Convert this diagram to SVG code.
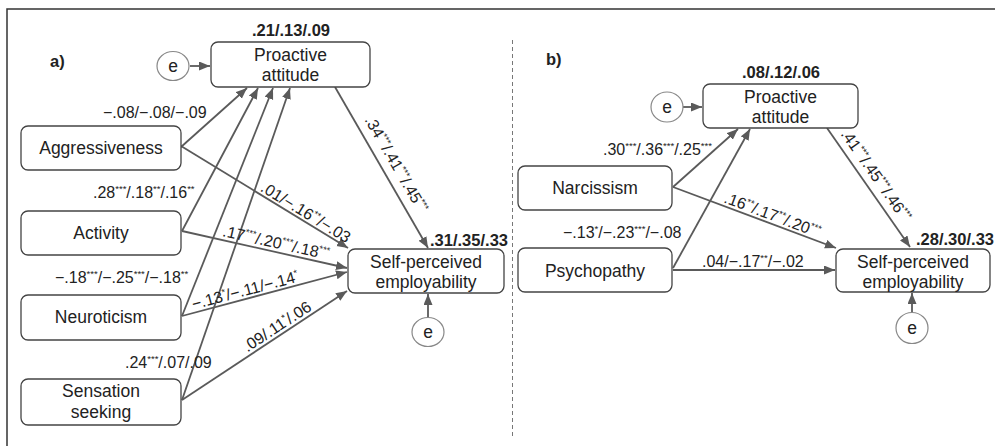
<svg xmlns="http://www.w3.org/2000/svg" width="995" height="446" viewBox="0 0 995 446">
<defs>
<marker id="ah" markerUnits="userSpaceOnUse" markerWidth="12" markerHeight="10" refX="11" refY="4.5" orient="auto">
<path d="M0,0 L11,4.5 L0,9 z" fill="#5a5a5a"/>
</marker>
<style>
.box{fill:#fff;stroke:#444;stroke-width:1.3}
.err{fill:#fff;stroke:#888;stroke-width:1.2}
.nt{font-family:"Liberation Sans",Arial,sans-serif;font-size:17.5px;fill:#222;text-anchor:middle}
.bt{font-family:"Liberation Sans",Arial,sans-serif;font-size:16.5px;font-weight:bold;fill:#222}
.lb{font-family:"Liberation Sans",Arial,sans-serif;font-size:16px;fill:#222}
.s{font-size:9.5px}
.c line,.c path{stroke:#5a5a5a;stroke-width:1.8;fill:none;marker-end:url(#ah)}
</style>
</defs>
<rect width="995" height="446" fill="#fff"/>
<path d="M7,446 V9 H995" fill="none" stroke="#333" stroke-width="1.5"/>
<line x1="512.5" y1="40" x2="512.5" y2="436" stroke="#777" stroke-width="1" stroke-dasharray="4,3"/>

<text class="bt" x="50" y="67">a)</text>
<text class="bt" x="546" y="65">b)</text>

<g class="c" id="connectors">
<line x1="190" y1="66" x2="210" y2="66"/>
<line x1="181" y1="147" x2="247" y2="88"/>
<line x1="182" y1="231" x2="258" y2="88"/>
<line x1="182" y1="316" x2="273" y2="88"/>
<line x1="182" y1="400" x2="290" y2="88"/>
<line x1="335" y1="87" x2="428" y2="248"/>
<line x1="181" y1="146" x2="348" y2="248"/>
<line x1="182" y1="231" x2="347" y2="268"/>
<line x1="182" y1="316" x2="347" y2="272"/>
<line x1="182" y1="400" x2="347" y2="291"/>
<line x1="428" y1="318" x2="428" y2="294"/>

<line x1="683" y1="107" x2="702" y2="107"/>
<line x1="673" y1="187" x2="738" y2="129"/>
<line x1="673" y1="268" x2="750" y2="129"/>
<line x1="827" y1="128" x2="910" y2="247"/>
<line x1="673" y1="187" x2="836" y2="248"/>
<line x1="673" y1="270" x2="835" y2="270"/>
<line x1="912" y1="312" x2="912" y2="293"/>
</g>

<g id="e1"><ellipse class="err" cx="173" cy="66" rx="16" ry="14.5"/><text class="nt" x="173" y="72">e</text></g>
<g id="pa_a"><rect class="box" x="211" y="42" width="159" height="45" rx="7"/><text class="nt" x="290.5" y="61">Proactive</text><text class="nt" x="290.5" y="81">attitude</text></g>
<text class="bt" x="291" y="36" text-anchor="middle">.21/.13/.09</text>
<g id="agg"><rect class="box" x="21" y="126" width="160" height="44" rx="7"/><text class="nt" x="101" y="154">Aggressiveness</text></g>
<g id="act"><rect class="box" x="21" y="211" width="160" height="44" rx="7"/><text class="nt" x="101" y="239">Activity</text></g>
<g id="neu"><rect class="box" x="21" y="295" width="160" height="45" rx="7"/><text class="nt" x="101" y="323">Neuroticism</text></g>
<g id="sen"><rect class="box" x="21" y="379" width="160" height="46" rx="7"/><text class="nt" x="101" y="397">Sensation</text><text class="nt" x="101" y="418">seeking</text></g>
<g id="spe_a"><rect class="box" x="348" y="249" width="156" height="44" rx="7"/><text class="nt" x="426" y="268">Self-perceived</text><text class="nt" x="426" y="288">employability</text></g>
<text class="bt" x="430" y="246">.31/.35/.33</text>
<g id="e2"><ellipse class="err" cx="428" cy="332" rx="16" ry="14.5"/><text class="nt" x="428" y="338">e</text></g>

<g id="e3"><ellipse class="err" cx="667" cy="107" rx="16" ry="15"/><text class="nt" x="667" y="113">e</text></g>
<g id="pa_b"><rect class="box" x="703" y="84" width="155" height="44" rx="7"/><text class="nt" x="780.5" y="103">Proactive</text><text class="nt" x="780.5" y="123">attitude</text></g>
<text class="bt" x="781" y="78" text-anchor="middle">.08/.12/.06</text>
<g id="nar"><rect class="box" x="518" y="166" width="154" height="44" rx="7"/><text class="nt" x="595" y="194">Narcissism</text></g>
<g id="psy"><rect class="box" x="518" y="248" width="154" height="44" rx="7"/><text class="nt" x="595" y="277">Psychopathy</text></g>
<g id="spe_b"><rect class="box" x="836" y="249" width="154" height="43" rx="7"/><text class="nt" x="913" y="268">Self-perceived</text><text class="nt" x="913" y="288">employability</text></g>
<text class="bt" x="916" y="245">.28/.30/.33</text>
<g id="e4"><ellipse class="err" cx="912" cy="328" rx="16" ry="15.5"/><text class="nt" x="912" y="334">e</text></g>

<g id="labels" class="lb">
<text x="103" y="118">−.08/−.08/−.09</text>
<text x="93" y="198">.28<tspan class="s" dy="-6">***</tspan><tspan dy="6">/.18</tspan><tspan class="s" dy="-6">**</tspan><tspan dy="6">/.16</tspan><tspan class="s" dy="-6">**</tspan></text>
<text x="55" y="283">−.18<tspan class="s" dy="-6">***</tspan><tspan dy="6">/−.25</tspan><tspan class="s" dy="-6">***</tspan><tspan dy="6">/−.18</tspan><tspan class="s" dy="-6">**</tspan></text>
<text x="125" y="368">.24<tspan class="s" dy="-6">***</tspan><tspan dy="6">/.07/.09</tspan></text>
<text text-anchor="middle" transform="translate(391.5,167) rotate(60)">.34<tspan class="s" dy="-6">***</tspan><tspan dy="6">/.41</tspan><tspan class="s" dy="-6">***</tspan><tspan dy="6">/.45</tspan><tspan class="s" dy="-6">***</tspan></text>
<text text-anchor="middle" transform="translate(303,217) rotate(31.4)">.01/−.16<tspan class="s" dy="-6">**</tspan><tspan dy="6">/−.03</tspan></text>
<text text-anchor="middle" transform="translate(275,248) rotate(12.6)">.17<tspan class="s" dy="-6">***</tspan><tspan dy="6">/.20</tspan><tspan class="s" dy="-6">***</tspan><tspan dy="6">/.18</tspan><tspan class="s" dy="-6">***</tspan></text>
<text text-anchor="middle" transform="translate(246.5,295.5) rotate(-14.9)">−.13<tspan class="s" dy="-6">*</tspan><tspan dy="6">/−.11/−.14</tspan><tspan class="s" dy="-6">*</tspan></text>
<text text-anchor="middle" transform="translate(280,331) rotate(-33.4)">.09/.11<tspan class="s" dy="-6">*</tspan><tspan dy="6">/.06</tspan></text>

<text x="603" y="155">.30<tspan class="s" dy="-6">***</tspan><tspan dy="6">/.36</tspan><tspan class="s" dy="-6">***</tspan><tspan dy="6">/.25</tspan><tspan class="s" dy="-6">***</tspan></text>
<text x="563" y="238">−.13<tspan class="s" dy="-6">*</tspan><tspan dy="6">/−.23</tspan><tspan class="s" dy="-6">***</tspan><tspan dy="6">/−.08</tspan></text>
<text x="702" y="267">.04/−.17<tspan class="s" dy="-6">**</tspan><tspan dy="6">/−.02</tspan></text>
<text text-anchor="middle" transform="translate(770.5,220) rotate(20.6)">.16<tspan class="s" dy="-6">**</tspan><tspan dy="6">/.17</tspan><tspan class="s" dy="-6">**</tspan><tspan dy="6">/.20</tspan><tspan class="s" dy="-6">***</tspan></text>
<text text-anchor="middle" transform="translate(871.5,178.5) rotate(54.9)">.41<tspan class="s" dy="-6">***</tspan><tspan dy="6">/.45</tspan><tspan class="s" dy="-6">***</tspan><tspan dy="6">/.46</tspan><tspan class="s" dy="-6">***</tspan></text>
</g>
</svg>
